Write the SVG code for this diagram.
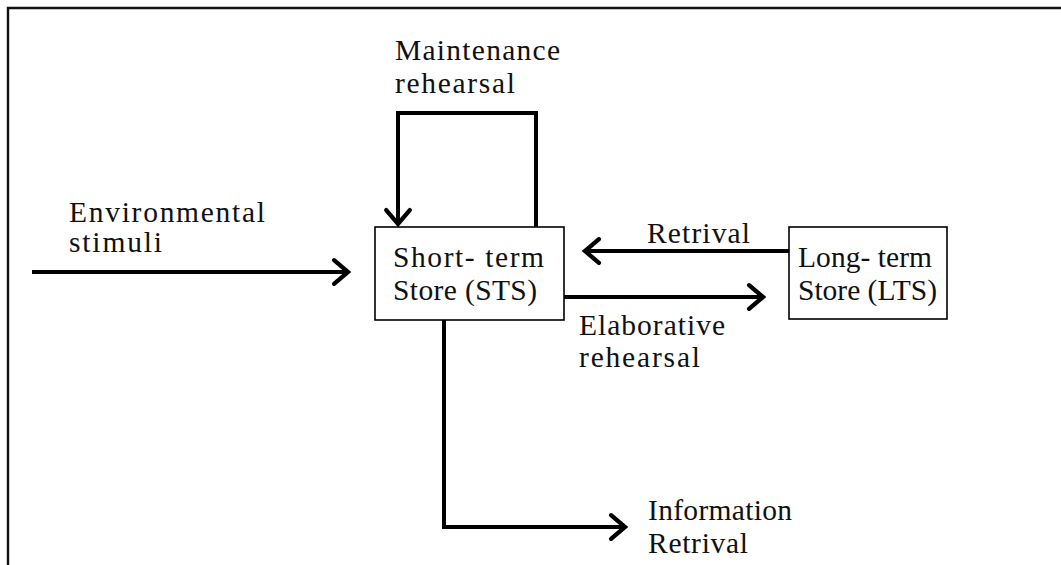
<svg xmlns="http://www.w3.org/2000/svg" width="1061" height="565" viewBox="0 0 1061 565">
<style>
.t{font-family:"Liberation Serif","Times New Roman",serif;font-size:29.5px;fill:#111}
.box{fill:#fff;stroke:#000;stroke-width:1.6}
.c{fill:none;stroke:#000;stroke-width:4;stroke-linejoin:miter}
</style>
<defs>
<marker id="ah" markerUnits="userSpaceOnUse" markerWidth="30" markerHeight="30" viewBox="-16 -14 20 28" refX="0" refY="0" orient="auto">
<path d="M-13,-11 L0,0 L-13,11" fill="none" stroke="#000" stroke-width="4" stroke-linecap="round" stroke-linejoin="miter"/>
</marker>
</defs>
<rect width="1061" height="565" fill="#fff"/>
<path d="M8,566 L8,8 L1062,8" fill="none" stroke="#111" stroke-width="2.4"/>
<g id="connectors">
<path class="c" d="M32,272 L348,272" marker-end="url(#ah)"/>
<path class="c" d="M536,227 L536,113 L398,113 L398,224" marker-end="url(#ah)"/>
<path class="c" d="M789,251 L585,251" marker-end="url(#ah)"/>
<path class="c" d="M560,297 L763,297" marker-end="url(#ah)"/>
<path class="c" d="M444,320 L444,527 L625,527" marker-end="url(#ah)"/>
</g>
<g id="sts">
<rect class="box" x="375" y="227" width="189" height="93"/>
<text class="t" x="393" y="267" textLength="151" lengthAdjust="spacing">Short- term</text>
<text class="t" x="393" y="300" textLength="144" lengthAdjust="spacing">Store (STS)</text>
</g>
<g id="lts">
<rect class="box" x="789" y="227" width="158" height="92"/>
<text class="t" x="798" y="267" textLength="134" lengthAdjust="spacing">Long- term</text>
<text class="t" x="798" y="300" textLength="139" lengthAdjust="spacing">Store (LTS)</text>
</g>
<g id="labels">
<text class="t" x="395" y="60" textLength="165" lengthAdjust="spacing">Maintenance</text>
<text class="t" x="395" y="93" textLength="120" lengthAdjust="spacing">rehearsal</text>
<text class="t" x="69" y="222" textLength="196" lengthAdjust="spacing">Environmental</text>
<text class="t" x="69" y="252" textLength="93" lengthAdjust="spacing">stimuli</text>
<text class="t" x="647" y="243" textLength="103" lengthAdjust="spacing">Retrival</text>
<text class="t" x="579" y="335" textLength="146" lengthAdjust="spacing">Elaborative</text>
<text class="t" x="579" y="367" textLength="121" lengthAdjust="spacing">rehearsal</text>
<text class="t" x="648" y="520" textLength="144" lengthAdjust="spacing">Information</text>
<text class="t" x="648" y="553" textLength="100" lengthAdjust="spacing">Retrival</text>
</g>
</svg>
